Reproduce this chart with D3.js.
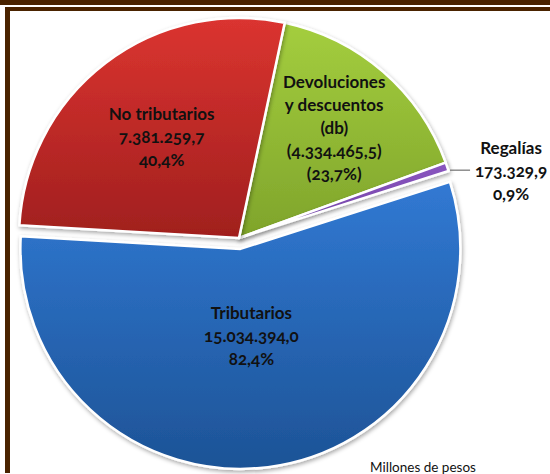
<!DOCTYPE html>
<html>
<head>
    <meta charset="utf-8">
    <script src="https://d3js.org/d3.v7.min.js"></script>
    <style>
        body { margin: 0; background: #fff; }
        svg { display: block; }
        .lbl { font-family: Lato, "Open Sans", sans-serif; font-weight: bold; font-size: 17px; fill: #111;
               font-variant-numeric: oldstyle-nums; }
        .unit { font-family: Lato, "Open Sans", sans-serif; font-size: 13.5px; fill: #111; }
    </style>
</head>
<body>
<script>
    // Datos (millones de pesos)
    var categorias = ["Devoluciones y descuentos (db)", "Regalías", "Tributarios", "No tributarios"];
    var nombres = [["Devoluciones", "y descuentos", "(db)"], ["Regalías"], ["Tributarios"], ["No tributarios"]];
    var valores = [-4334465.5, 173329.9, 15034394.0, 7381259.7];
    var porcentajes = [-23.7, 0.9, 82.4, 40.4];
    var colores = [["#a4ce3e", "#7fa42b"], ["#8a55c0", "#6f43a3"], ["#3179d3", "#1d5396"], ["#db3430", "#a01f1e"]];

    var width = 550, height = 474;
    var cx = 239, cy = 238, r = 220;
    var startAngle = 12 * Math.PI / 180;

    var es = d3.formatLocale({ decimal: ",", thousands: ".", grouping: [3], currency: ["$", ""] });
    var fmtValor = es.format("(,.1f");
    var fmtPct = function(p) { return p < 0 ? "(" + es.format(",.1f")(-p) + "%)" : es.format(",.1f")(p) + "%"; };

    var svg = d3.select("body").append("svg")
        .attr("width", width)
        .attr("height", height);

    // Marco
    svg.append("rect").attr("x", 0).attr("y", 0).attr("width", width).attr("height", 5).attr("fill", "#4a2300");
    svg.append("rect").attr("x", 5).attr("y", 7).attr("width", width - 5).attr("height", 4).attr("fill", "#4a2300");
    svg.append("rect").attr("x", 5).attr("y", 7).attr("width", 5).attr("height", height - 8).attr("fill", "#4a2300");

    var defs = svg.append("defs");
    var sombra = defs.append("filter").attr("id", "sombra")
        .attr("x", "-10%").attr("y", "-10%").attr("width", "120%").attr("height", "120%");
    sombra.append("feDropShadow").attr("dx", 1).attr("dy", 2).attr("stdDeviation", 2)
        .attr("flood-color", "#000").attr("flood-opacity", 0.35);

    colores.forEach(function(c, i) {
        var g = defs.append("linearGradient").attr("id", "grad" + i)
            .attr("x1", 0).attr("y1", 0).attr("x2", 0).attr("y2", 1);
        g.append("stop").attr("offset", "0%").attr("stop-color", c[0]);
        g.append("stop").attr("offset", "100%").attr("stop-color", c[1]);
    });

    var pie = d3.pie()
        .sort(null)
        .value(function(d) { return Math.abs(d); })
        .startAngle(startAngle)
        .endAngle(startAngle + 2 * Math.PI);

    var arcs = pie(valores);
    var arc = d3.arc().innerRadius(0).outerRadius(r);

    // Explosion of the Tributarios slice
    var explode = [0, 0, 11, 0];
    function offset(d, i) {
        var a = (d.startAngle + d.endAngle) / 2;
        return [Math.sin(a) * explode[i], -Math.cos(a) * explode[i]];
    }

    var g = svg.append("g").attr("transform", "translate(" + cx + "," + cy + ")");

    g.selectAll("path.slice")
        .data(arcs)
      .enter().append("path")
        .attr("class", "slice")
        .attr("transform", function(d, i) { var o = offset(d, i); return "translate(" + o[0] + "," + o[1] + ")"; })
        .attr("d", arc)
        .attr("fill", function(d, i) { return "url(#grad" + i + ")"; })
        .attr("stroke", "#fff")
        .attr("stroke-width", 2.5)
        .attr("stroke-linejoin", "round")
        .attr("filter", "url(#sombra)");

    // Etiquetas
    var labelRadius = [0.66, null, 0.40, 0.58];
    var lineH = 23;

    arcs.forEach(function(d, i) {
        var a = (d.startAngle + d.endAngle) / 2;
        var o = offset(d, i);
        var lines = nombres[i].concat([fmtValor(valores[i]), fmtPct(porcentajes[i])]);
        var x, y;
        if (labelRadius[i] !== null) {
            x = o[0] + Math.sin(a) * r * labelRadius[i];
            y = o[1] - Math.cos(a) * r * labelRadius[i];
        } else {
            // outside label with leader line
            var px = Math.sin(a) * (r + 2), py = -Math.cos(a) * (r + 2);
            x = px + 62;
            y = py + 5;
            g.append("line")
                .attr("x1", px + 1).attr("y1", py + 4)
                .attr("x2", x - 41).attr("y2", py + 4)
                .attr("stroke", "#555").attr("stroke-width", 1);
        }
        var t = g.append("text")
            .attr("class", "lbl")
            .attr("text-anchor", "middle")
            .attr("x", x)
            .attr("y", y - (lines.length - 1) * lineH / 2);
        lines.forEach(function(s, k) {
            t.append("tspan")
                .attr("x", x)
                .attr("dy", k === 0 ? "0.35em" : lineH)
                .text(s);
        });
    });

    svg.append("text")
        .attr("class", "unit")
        .attr("x", 423)
        .attr("y", 472)
        .attr("text-anchor", "middle")
        .text("Millones de pesos");
</script>
</body>
</html>
